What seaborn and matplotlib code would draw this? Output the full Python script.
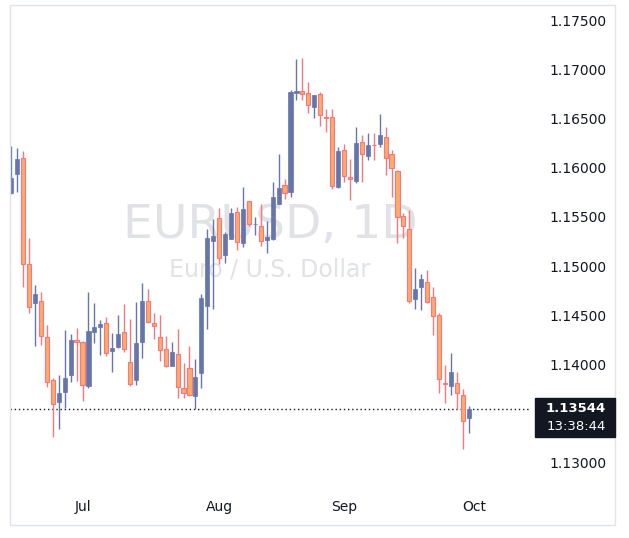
import seaborn as sns
import matplotlib.pyplot as plt
import matplotlib.patches as mpatches
import numpy as np
import pandas as pd

# daily EUR/USD candles
opens = [1.15746, 1.15933, 1.16095, 1.15018, 1.14629, 1.14643, 1.14277, 1.13843, 1.13623, 1.13725,
         1.13898, 1.14250, 1.14230, 1.13786, 1.14335, 1.14385, 1.14423, 1.14142, 1.14179, 1.14331,
         1.14026, 1.13847, 1.14226, 1.14646, 1.14423, 1.14280, 1.14155, 1.13989, 1.14107, 1.13758,
         1.13962, 1.13684, 1.13911, 1.14598, 1.15258, 1.15485, 1.15116, 1.15279, 1.15546, 1.15238,
         1.15658, 1.15424, 1.15407, 1.15268, 1.15275, 1.15634, 1.15824, 1.15756, 1.16762, 1.16779,
         1.16758, 1.16619, 1.16748, 1.16514, 1.16514, 1.15807, 1.16179, 1.15901, 1.15868, 1.16260,
         1.16122, 1.16233, 1.16237, 1.16308, 1.16138, 1.15969, 1.15509, 1.15377, 1.14669, 1.14791,
         1.14838, 1.14686, 1.14503, 1.13812, 1.13785, 1.13809, 1.13690, 1.13460]
highs = [1.16220, 1.16197, 1.16170, 1.15283, 1.14809, 1.14734, 1.14402, 1.13860, 1.13894, 1.14351,
         1.14311, 1.14372, 1.14243, 1.14737, 1.14626, 1.14453, 1.14484, 1.14321, 1.14504, 1.14616,
         1.14463, 1.14636, 1.14829, 1.14768, 1.14528, 1.14504, 1.14291, 1.14230, 1.14361, 1.14016,
         1.14192, 1.14056, 1.14717, 1.15377, 1.15478, 1.15590, 1.15350, 1.15590, 1.15600, 1.15807,
         1.15661, 1.15502, 1.15631, 1.15458, 1.15858, 1.16139, 1.15888, 1.16789, 1.17104, 1.17114,
         1.16870, 1.16738, 1.16765, 1.16593, 1.16593, 1.16210, 1.16237, 1.16088, 1.16416, 1.16332,
         1.16355, 1.16348, 1.16545, 1.16416, 1.16179, 1.15976, 1.15536, 1.15570, 1.14981, 1.14919,
         1.14960, 1.14784, 1.14520, 1.13995, 1.14120, 1.13927, 1.13748, 1.13579]
lows = [1.15733, 1.15757, 1.14792, 1.14528, 1.14192, 1.14202, 1.13769, 1.13261, 1.13349, 1.13556,
        1.13823, 1.13837, 1.13634, 1.13766, 1.14223, 1.14097, 1.14091, 1.13928, 1.14169, 1.14131,
        1.13786, 1.13796, 1.14070, 1.14419, 1.14257, 1.14040, 1.13979, 1.13989, 1.13657, 1.13664,
        1.13684, 1.13545, 1.13758, 1.14358, 1.14561, 1.15018, 1.15028, 1.15279, 1.15160, 1.15191,
        1.15404, 1.15316, 1.15204, 1.15130, 1.15265, 1.15634, 1.15678, 1.15705, 1.16687, 1.16687,
        1.16552, 1.16508, 1.16427, 1.16366, 1.15786, 1.15793, 1.15851, 1.15671, 1.15841, 1.15851,
        1.16078, 1.16078, 1.16213, 1.15929, 1.15698, 1.15238, 1.15282, 1.14622, 1.14567, 1.14554,
        1.14622, 1.14303, 1.13714, 1.13606, 1.13690, 1.13545, 1.13139, 1.13308]
closes = [1.15892, 1.16088, 1.15018, 1.14582, 1.14717, 1.14287, 1.13820, 1.13596, 1.13708, 1.13864,
          1.14250, 1.14226, 1.13789, 1.14341, 1.14382, 1.14409, 1.14114, 1.14169, 1.14311, 1.14155,
          1.13806, 1.14219, 1.14646, 1.14429, 1.14389, 1.14145, 1.13982, 1.14128, 1.13775, 1.13708,
          1.13691, 1.13873, 1.14676, 1.15285, 1.15302, 1.15079, 1.15326, 1.15539, 1.15241, 1.15580,
          1.15424, 1.15431, 1.15251, 1.15295, 1.15702, 1.15797, 1.15746, 1.16769, 1.16779, 1.16752,
          1.16633, 1.16738, 1.16531, 1.16508, 1.15817, 1.16169, 1.15919, 1.15881, 1.16254, 1.16135,
          1.16230, 1.16227, 1.16335, 1.16094, 1.15993, 1.15502, 1.15411, 1.14642, 1.14764, 1.14869,
          1.14639, 1.14490, 1.13850, 1.13806, 1.13924, 1.13714, 1.13423, 1.13544]
dates = pd.bdate_range("2025-06-13", periods=len(opens))
month_labels = ["Jul", "Aug", "Sep", "Oct"]
month_starts = ["2025-07-01", "2025-08-01", "2025-09-01", "2025-10-01"]
price_ticks = [1.130, 1.135, 1.140, 1.145, 1.150, 1.155, 1.160, 1.165, 1.170, 1.175]

df = pd.DataFrame({"date": dates, "open": opens, "high": highs, "low": lows, "close": closes})
df["i"] = np.arange(len(df))
df["up"] = df["close"] >= df["open"]

UP = "#6675AA"
DOWN_EDGE = "#F7777F"
DOWN_FILL = "#FDAA6A"

sns.set_theme(style="white")
plt.rcParams['font.family'] = ['DejaVu Sans']

fig = plt.figure(figsize=(6.29, 5.38), dpi=100)
ax = fig.add_axes([10 / 629, 46 / 538, 520 / 629, 487 / 538])

for _, r in df.iterrows():
    col = UP if r["up"] else DOWN_EDGE
    ax.vlines(r["i"], r["low"], r["high"], color=col, linewidth=1, zorder=2)
    lo, hi = min(r["open"], r["close"]), max(r["open"], r["close"])
    h = max(hi - lo, 0.00004)
    if r["up"]:
        ax.bar(r["i"], h, bottom=lo, width=0.7, color=UP, edgecolor=UP, linewidth=0.5, zorder=3)
    else:
        ax.bar(r["i"], h, bottom=lo, width=0.7, color=DOWN_FILL, edgecolor=DOWN_EDGE, linewidth=0.8, zorder=3)

ax.set_xlim(-0.2, len(df) + 9.3)
ax.set_ylim(1.13 - 29 / 9844, 1.175 + 15 / 9844)

# x ticks at month starts
pos = [np.searchsorted(dates, pd.Timestamp(m)) for m in month_starts]
ax.set_xticks(pos)
ax.set_xticklabels(month_labels, fontsize=10, color="#131722")
ax.yaxis.tick_right()
ax.set_yticks(price_ticks)
ax.set_yticklabels([f"{t:.5f}" for t in price_ticks], fontsize=10, color="#131722")
ax.tick_params(axis="y", length=0, pad=14)
ax.tick_params(axis="x", length=0, pad=6)
for s in ax.spines.values():
    s.set_visible(False)

last = closes[-1]
ax.axhline(last, color="#131722", linestyle=(0, (1, 2)), linewidth=1, zorder=1)

# watermark
ax.text(0.5, 0.548, "EURUSD, 1D", transform=ax.transAxes, ha="center", va="center",
        fontsize=34, color="#E1E2E6", zorder=0)
ax.text(0.5, 0.456, "Euro / U.S. Dollar", transform=ax.transAxes, ha="center", va="center",
        fontsize=17, color="#E1E2E6", zorder=0)

# last price label
fig.patches.append(mpatches.Rectangle((535 / 629, 1 - 437 / 538), 80 / 629, 39 / 538,
                                      transform=fig.transFigure, color="#131722", zorder=5))
fig.text(576 / 629, 1 - 408 / 538, f"{last:.5f}", ha="center", va="center", color="white",
         fontsize=9.5, weight="bold", zorder=6)
fig.text(576 / 629, 1 - 427 / 538, "13:38:44", ha="center", va="center", color="white",
         fontsize=9.5, zorder=6)

# outer frame
fig.patches.append(mpatches.Rectangle((10 / 629, 1 - 525 / 538), 605 / 629, 520 / 538,
                                      transform=fig.transFigure, fill=False, edgecolor="#E0E3EB",
                                      linewidth=1))

fig.savefig("out.png", dpi=100)
